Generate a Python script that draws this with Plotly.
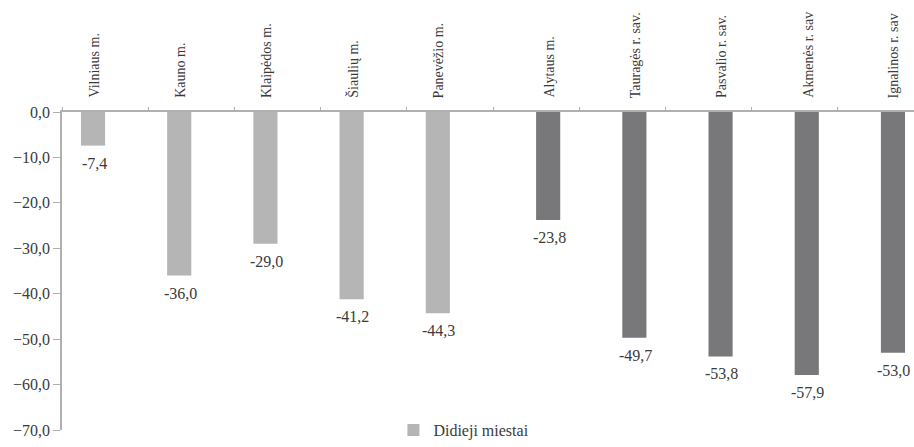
import plotly.graph_objects as go

categories = ["Vilniaus m.", "Kauno m.", "Klaipėdos m.", "Šiaulių m.", "Panevėžio m.",
              "Alytaus m.", "Tauragės r. sav.", "Pasvalio r. sav.", "Akmenės r. sav", "Ignalinos r. sav"]
big_cities = [-7.4, -36.0, -29.0, -41.2, -44.3, None, None, None, None, None]
other = [None, None, None, None, None, -23.8, -49.7, -53.8, -57.9, -53.0]
y_ticks = [0, -10, -20, -30, -40, -50, -60, -70]

FONT = "'Liberation Serif', 'Times New Roman', serif"
TXT = "#3a3a3a"

fig = go.Figure()
fig.add_trace(go.Bar(x=categories, y=big_cities, name="Didieji miestai",
                     marker=dict(color="#b5b5b5", line=dict(width=0))))
fig.add_trace(go.Bar(x=categories, y=other, name="Kitos savivaldybės", showlegend=False,
                     marker=dict(color="#78787a", line=dict(width=0))))

for i, c in enumerate(categories):
    first = big_cities[i] is not None
    val = big_cities[i] if first else other[i]
    shift = -11 if first else 13
    # category label above the axis
    fig.add_annotation(x=c, y=1, xref="x", yref="paper", text=c, textangle=-90,
                       showarrow=False, xanchor="center", yanchor="bottom",
                       xshift=shift, yshift=12,
                       font=dict(family=FONT, size=14, color=TXT))
    # value label under the bar
    fig.add_annotation(x=c, y=val, xref="x", yref="y",
                       text=f"{val:.1f}".replace(".", ","),
                       showarrow=False, xanchor="center", yanchor="top",
                       xshift=shift, yshift=-7,
                       font=dict(family=FONT, size=16, color=TXT))

fig.update_layout(
    width=914, height=447,
    margin=dict(l=62, r=0, t=112, b=9),
    paper_bgcolor="white", plot_bgcolor="white",
    barmode="group", bargap=0.44, bargroupgap=0,
    separators=", ",
    font=dict(family=FONT, size=16, color=TXT),
    legend=dict(orientation="h", x=0.389, xanchor="left", y=0.0, yanchor="middle",
                font=dict(family=FONT, size=16, color=TXT), bgcolor="rgba(0,0,0,0)"),
    xaxis=dict(side="top", range=[-0.5, 9.384], showticklabels=False,
               showline=True, linecolor="#b0b0b0", linewidth=1.5,
               ticks="outside", tickson="boundaries", ticklen=3, tickcolor="#b0b0b0",
               showgrid=False, zeroline=False, fixedrange=True, automargin=False),
    yaxis=dict(range=[-70, 0], tickvals=y_ticks, tickformat=".1f",
               showline=True, linecolor="#b0b0b0", linewidth=1.5,
               ticks="outside", ticklen=7, tickcolor="#b0b0b0",
               showgrid=False, zeroline=False, automargin=False,
               tickfont=dict(family=FONT, size=16, color=TXT)),
)

fig.write_html("out.html", config={"displayModeBar": False},
               post_script="document.body.style.margin='0';document.body.style.overflow='hidden';")
